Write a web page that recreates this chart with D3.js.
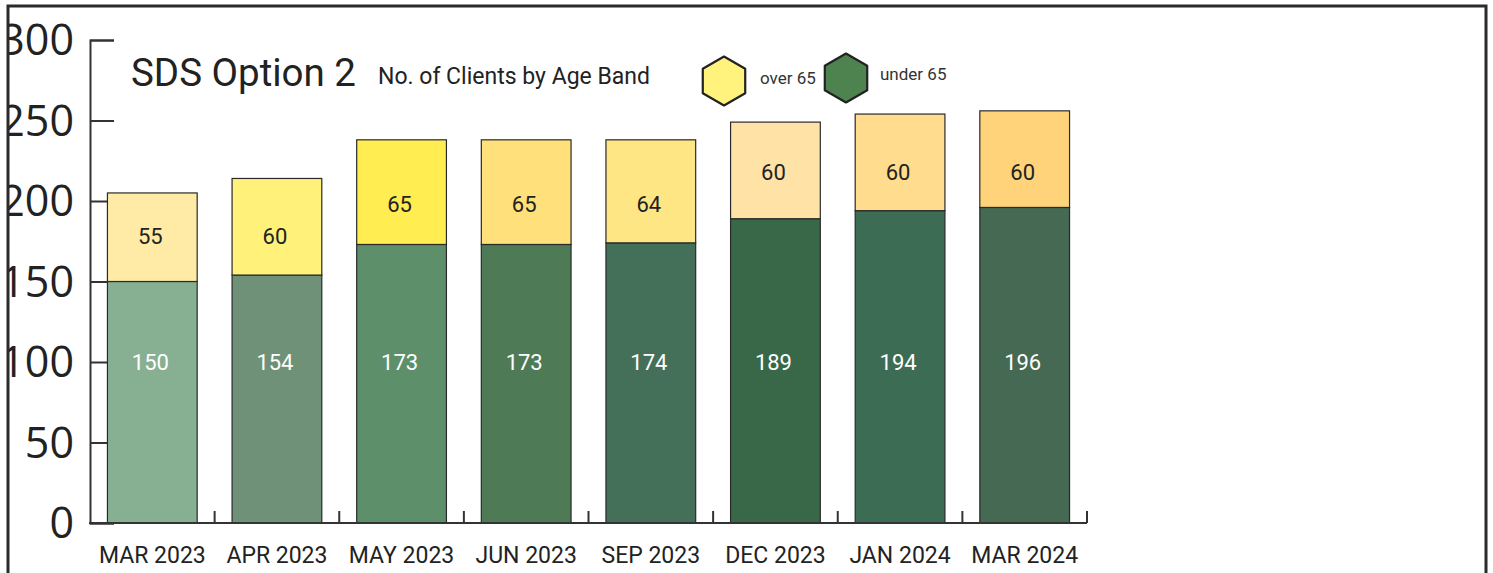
<!DOCTYPE html>
<html>
<head>
<meta charset="utf-8">
<script src="https://cdn.jsdelivr.net/npm/d3@7"></script>
<style>
  body { margin: 0; background: #fff; }
  svg { display: block; }
</style>
</head>
<body>
<div class="mainView"></div>
<script>
// data
const months = ["MAR 2023", "APR 2023", "MAY 2023", "JUN 2023", "SEP 2023", "DEC 2023", "JAN 2024", "MAR 2024"];
const under65 = [150, 154, 173, 173, 174, 189, 194, 196];
const over65 = [55, 60, 65, 65, 64, 60, 60, 60];
// value at which each "over 65" label sits (as in the picture)
const overLabelAt = [178, 178, 198, 198, 198, 218, 218, 218];
const underLabelAt = 100;
const yTicks = [0, 50, 100, 150, 200, 250, 300];
const underColors = ["#87b093", "#6f9178", "#5c8f6a", "#4f7a56", "#44705a", "#386848", "#3c6c54", "#456953"];
const overColors = ["#ffeaa6", "#fff17a", "#ffed52", "#ffe07a", "#ffe685", "#ffe3a6", "#ffdc8e", "#ffd37a"];

function chartConfiguration(){
    let width = 1493, height = 573;
    let svg = d3.select(".mainView").append("svg")
        .attr("width", width)
        .attr("height", height);
    return { width, height, svg };
}

function chartScales(){
    let xScale = d3.scaleBand()
        .domain(months)
        .range([90, 1087])
        .paddingInner(0.28)
        .paddingOuter(0.14);
    let yScale = d3.scaleLinear()
        .domain([0, 300])
        .range([523, 40]);
    return { xScale, yScale };
}

function drawChart(config, scales){
    let { svg } = config;
    let { xScale, yScale } = scales;

    // y axis
    let axisY = d3.axisRight(yScale).tickValues(yTicks).tickSize(24).tickFormat("");
    let gy = svg.append("g").attr("transform", "translate(90,0)").call(axisY);
    gy.select(".domain").style("stroke", "#333").style("stroke-width", 2);
    gy.selectAll(".tick line").style("stroke", "#333").style("stroke-width", 2);

    svg.append("g").selectAll("text")
        .data(yTicks)
        .enter().append("text")
        .attr("x", 74)
        .attr("y", d => yScale(d) + 15)
        .attr("text-anchor", "end")
        .style("font-family", "'Open Sans', sans-serif")
        .style("font-size", "43px")
        .style("fill", "#222")
        .text(d => d);

    // bars
    let bars = svg.append("g").selectAll("g")
        .data(months)
        .enter().append("g");

    bars.append("rect")
        .attr("x", d => xScale(d))
        .attr("width", xScale.bandwidth())
        .attr("y", (d, i) => yScale(under65[i]))
        .attr("height", (d, i) => yScale(0) - yScale(under65[i]))
        .style("fill", (d, i) => underColors[i])
        .style("stroke", "#2a2a2a")
        .style("stroke-width", 1.2);

    bars.append("rect")
        .attr("x", d => xScale(d))
        .attr("width", xScale.bandwidth())
        .attr("y", (d, i) => yScale(under65[i] + over65[i]))
        .attr("height", (d, i) => yScale(under65[i]) - yScale(under65[i] + over65[i]))
        .style("fill", (d, i) => overColors[i])
        .style("stroke", "#2a2a2a")
        .style("stroke-width", 1.2);

    bars.append("text")
        .attr("x", d => xScale(d) + xScale.bandwidth() / 2 - 2)
        .attr("y", (d, i) => yScale(underLabelAt) + 8)
        .attr("text-anchor", "middle")
        .style("font-family", "Roboto, sans-serif")
        .style("font-size", "22px")
        .style("fill", "#fff")
        .text((d, i) => under65[i]);

    bars.append("text")
        .attr("x", d => xScale(d) + xScale.bandwidth() / 2 - 2)
        .attr("y", (d, i) => yScale(overLabelAt[i]) + 8)
        .attr("text-anchor", "middle")
        .style("font-family", "Roboto, sans-serif")
        .style("font-size", "22px")
        .style("fill", "#222")
        .text((d, i) => over65[i]);

    // x axis
    svg.append("line")
        .attr("x1", 89).attr("x2", 1087)
        .attr("y1", yScale(0)).attr("y2", yScale(0))
        .style("stroke", "#333").style("stroke-width", 2);
    let step = xScale.step();
    svg.append("g").selectAll("line")
        .data(months)
        .enter().append("line")
        .attr("x1", (d, i) => 90 + step * (i + 1))
        .attr("x2", (d, i) => 90 + step * (i + 1))
        .attr("y1", yScale(0))
        .attr("y2", yScale(0) - 12)
        .style("stroke", "#333").style("stroke-width", 2);

    svg.append("g").selectAll("text")
        .data(months)
        .enter().append("text")
        .attr("x", d => xScale(d) + xScale.bandwidth() / 2)
        .attr("y", 563)
        .attr("text-anchor", "middle")
        .style("font-family", "Roboto, sans-serif")
        .style("font-size", "23px")
        .style("fill", "#222")
        .text(d => d);

    // title
    svg.append("text")
        .attr("x", 131).attr("y", 86)
        .style("font-family", "Roboto, sans-serif")
        .style("font-size", "38.5px")
        .style("fill", "#222")
        .text("SDS Option 2");
    svg.append("text")
        .attr("x", 378).attr("y", 84)
        .style("font-family", "Roboto, sans-serif")
        .style("font-size", "23px")
        .style("fill", "#222")
        .text("No. of Clients by Age Band");

    // outer frame (bottom edge is outside the picture), drawn last so it clips labels
    svg.append("rect")
        .attr("x", 0).attr("y", 0)
        .attr("width", 7).attr("height", 573)
        .style("fill", "#fff");
    svg.append("rect")
        .attr("x", 8).attr("y", 6)
        .attr("width", 1478).attr("height", 600)
        .style("fill", "none")
        .style("stroke", "#2b2b2b")
        .style("stroke-width", 3);
}

function legend(config){
    let { svg } = config;
    let items = [
        { label: "over 65", fill: "#fff27d", cx: 724, cy: 81, tx: 760, ty: 84 },
        { label: "under 65", fill: "#4e8350", cx: 846, cy: 78, tx: 880, ty: 80 }
    ];
    let r = 24.5;
    let hex = d3.range(6).map(k => {
        let a = Math.PI / 3 * k - Math.PI / 2;
        return [r * Math.cos(a), r * Math.sin(a)];
    });
    items.forEach(it => {
        svg.append("path")
            .attr("d", d3.line()(hex) + "Z")
            .attr("transform", "translate(" + [it.cx, it.cy] + ")")
            .style("fill", it.fill)
            .style("stroke", "#222")
            .style("stroke-width", 2.2)
            .style("stroke-linejoin", "round");
        svg.append("text")
            .attr("x", it.tx).attr("y", it.ty)
            .style("font-family", "Roboto, sans-serif")
            .style("font-size", "17px")
            .style("fill", "#333")
            .text(it.label);
    });
}

let config = chartConfiguration();
let scales = chartScales();
drawChart(config, scales);
legend(config);
</script>
</body>
</html>
